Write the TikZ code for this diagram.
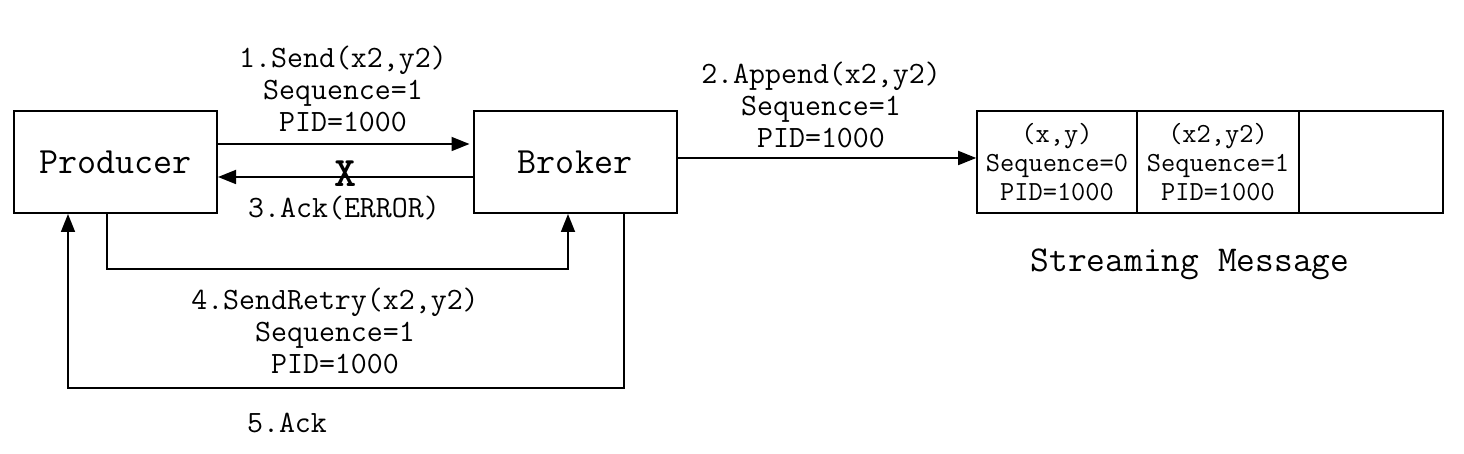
\documentclass[tikz,border=0pt]{standalone}
\usetikzlibrary{arrows.meta,calc}
\tikzset{
  box/.style={draw, line width=1pt, minimum width=101.5pt, minimum height=51pt, inner sep=0pt,
    font=\ttfamily\fontsize{18.5}{20}\selectfont},
  cell/.style={draw, line width=0.8pt, minimum height=51pt, inner sep=0pt, align=center,
    font=\ttfamily\fontsize{13.8}{14.5}\selectfont},
  lab/.style={align=center, inner sep=0pt, font=\ttfamily\fontsize{15.5}{16}\selectfont},
  biglab/.style={inner sep=0pt, font=\ttfamily\fontsize{18.2}{20}\selectfont},
  arr/.style={line width=0.9pt, -{Triangle[length=9pt,width=7pt]}},
}
\begin{document}
\begin{tikzpicture}[x=0.5pt,y=-0.5pt]
\useasboundingbox (0,0) rectangle (1464,454);
\node[box] (P) at (115.5,162) {Producer};
\node[box] (B) at (575,162) {Broker};
\node[cell, minimum width=80pt] (c1) at (1057,162) {(x,y)\\Sequence=0\\PID=1000};
\node[cell, minimum width=81pt] (c2) at (1218,162) {(x2,y2)\\Sequence=1\\PID=1000};
\node[cell, minimum width=72pt] (c3) at (1371,162) {};
% arrows
\draw[arr] ([yshift=9pt]P.east) -- ([yshift=9pt,xshift=-1.5pt]B.west);
\draw[arr] ([yshift=-7.5pt]B.west) -- ([yshift=-7.5pt]P.east)
  node[midway, yshift=1.5pt, inner sep=0pt, font=\ttfamily\bfseries\fontsize{21}{21}\selectfont] (X) {X};
\draw[arr] ([xshift=-4.25pt]P.south) -- ++(0,55) -| ([xshift=-3.5pt]B.south);
\draw[arr] ([xshift=24.5pt]B.south) -- ++(0,174) -| ([xshift=-23.75pt]P.south);
\draw[arr] ([yshift=2pt]B.east) -- ([yshift=2pt]c1.west);
% labels
\node[lab] (l1) at (343,89) {1.Send(x2,y2)\\Sequence=1\\PID=1000};
\node[lab] (l2) at (821,105) {2.Append(x2,y2)\\Sequence=1\\PID=1000};
\node[lab] (l3) at (344,208) {3.Ack(ERROR)};
\node[lab] (l4) at (335,331) {4.SendRetry(x2,y2)\\Sequence=1\\PID=1000};
\node[lab] (l5) at (287,423) {5.Ack};
\node[biglab] (sm) at (1190,264) {Streaming Message};
\end{tikzpicture}
\end{document}
